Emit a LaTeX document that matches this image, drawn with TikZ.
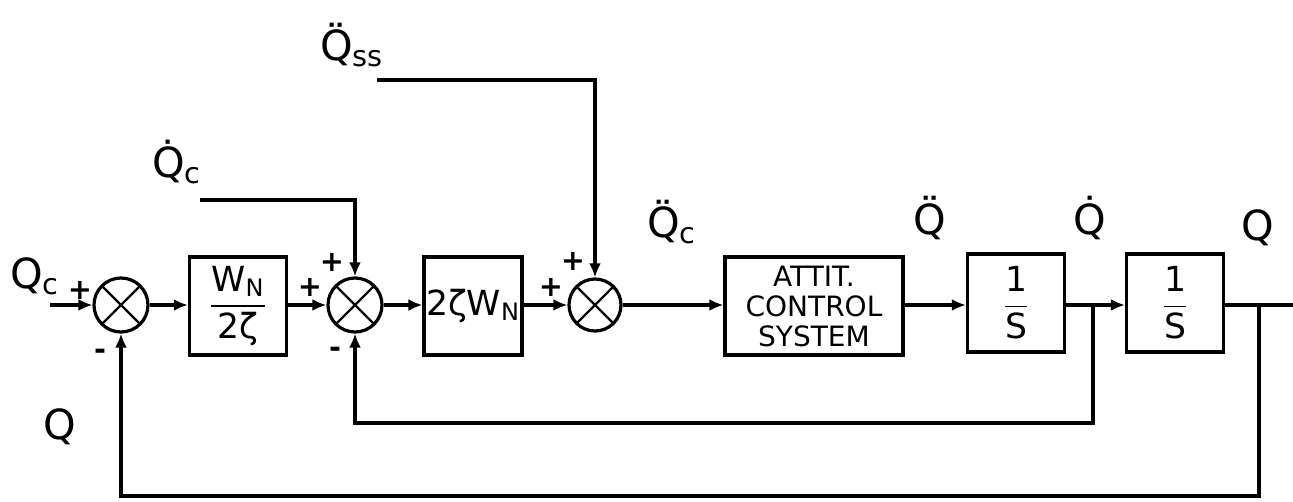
\documentclass[tikz,border=0pt]{standalone}
\usepackage{amsmath}
\usepackage{fontspec}
\setmainfont{DejaVu Sans}
\usetikzlibrary{arrows.meta,positioning}

\begin{document}
\begin{tikzpicture}[
  x=0.5pt, y=-0.5pt,
  block/.style={rectangle, draw, minimum width=48.5pt, minimum height=49pt,
    font=\LARGE, align=center, inner sep=1pt},
  junction/.style={circle, draw, minimum size=27pt, inner sep=0pt,
    path picture={\draw[-, line width=1.1pt]
      (path picture bounding box.north west) -- (path picture bounding box.south east)
      (path picture bounding box.north east) -- (path picture bounding box.south west);}},
  lbl/.style={font=\huge, inner sep=0pt},
  sign/.style={font=\Large\bfseries, inner sep=0pt},
  ->,>={Latex[length=7pt,width=6pt]}, line width=1.6pt
]
  \useasboundingbox (0,0) rectangle (1293,502);

  \node[junction] (sum1) at (121,305) {};
  \node[block, font=\LARGE] (gain1) at (238,306) {$\dfrac{\mathrm{W}_{\mathrm{N}}}{\text{2ζ}}$};
  \node[junction] (sum2) at (355,305) {};
  \node[block] (gain2) at (473,306) {2ζ$\mathrm{W}_{\mathrm{N}}$};
  \node[junction, minimum size=26pt] (sum3) at (595,305) {};
  \node[block, minimum width=89pt, font=\fontsize{14}{15}\selectfont] (acs) at (814,306)
    {ATTIT.\\CONTROL\\SYSTEM};
  \node[block] (int1) at (1016,303) {$\dfrac{\mathrm{1}}{\mathrm{S}}$};
  \node[block] (int2) at (1175,303) {$\dfrac{\mathrm{1}}{\mathrm{S}}$};

  \coordinate (qin) at (50,305);
  \coordinate (qdc) at (200,200);
  \coordinate (qss) at (377,80);
  \coordinate (b1) at (1093,305);
  \coordinate (b2) at (1259,305);
  \coordinate (qout) at (1293,305);

  \draw (qin) -- (sum1);
  \draw (sum1) -- (sum1 -| gain1.west);
  \draw (sum2 -| gain1.east) -- (sum2);
  \draw (sum2) -- (sum2 -| gain2.west);
  \draw (sum3 -| gain2.east) -- (sum3);
  \draw (sum3) -- (sum3 -| acs.west);
  \draw (b1 -| acs.east) -- (b1 -| int1.west);
  \draw (b1 -| int1.east) -- (b1 -| int2.west);
  \draw[-] (b2 -| int2.east) -- (qout);

  % Commanded inputs
  \draw (qdc) -| (sum2);
  \draw (qss) -| (sum3);

  % Rate feedback
  \draw (b1) -- ++(0,118) -| (sum2);
  % Attitude feedback
  \draw (b2) -- ++(0,191) -| (sum1);

  % Signal labels
  \node[lbl] (lqcin) at (35,276) {Q\textsubscript{c}};
  \node[lbl] (lqfb) at (60,427) {Q};
  \node[lbl] (lqdc) at (177,162) {Q̇\textsubscript{c}};
  \node[lbl] (lqss) at (352,45) {Q̈\textsubscript{ss}};
  \node[lbl] (lqddc) at (672,222) {Q̈\textsubscript{c}};
  \node[lbl] (lqdd) at (930,218) {Q̈};
  \node[lbl] (lqd) at (1090,218) {Q̇};
  \node[lbl] (lq) at (1258,228) {Q};

  % Signs
  \node[sign] (p1) at (80,290) {+};
  \node[sign] (m1) at (100,354) {-};
  \node[sign] (p2a) at (310,287) {+};
  \node[sign] (p2b) at (332,262) {+};
  \node[sign] (m2) at (335,352) {-};
  \node[sign] (p3a) at (551,287) {+};
  \node[sign] (p3b) at (573,261) {+};
\end{tikzpicture}
\end{document}
